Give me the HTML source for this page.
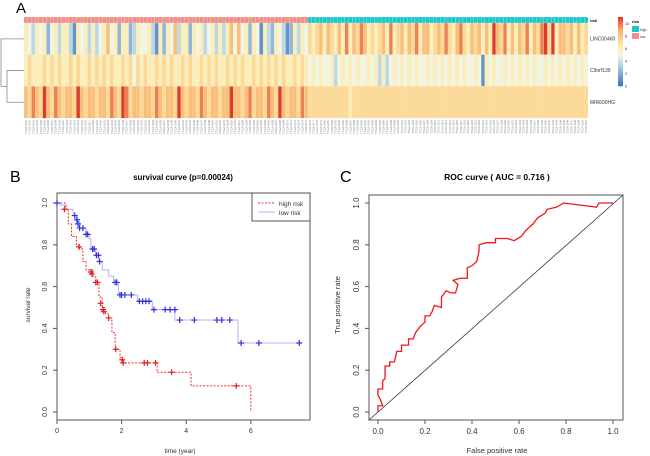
<!DOCTYPE html>
<html><head><meta charset="utf-8"><style>
html,body{margin:0;padding:0;background:#fff}
svg{display:block;font-family:"Liberation Sans",Arial,sans-serif}
</style></head><body>
<svg id="fig" width="650" height="456" viewBox="0 0 650 456">
<text x="16" y="13" font-size="15">A</text>
<text x="10" y="182" font-size="16">B</text>
<text x="340" y="182" font-size="16">C</text>
<g id="heat"></g>
<g id="surv"></g>
<g id="roc"></g>
</svg>
<script>
// ---------- Heatmap data ----------
const geneNames = ["LINC00460","C9orf139","MIR600HG"];
const lowGroup = [
"5435452453553154535345745255235445315254735525453453535747452541532543125354",
"5655565656556565565656565565646565565656556565565656556565655656565656556565",
"7687697687677697677677687698677677687677697677687677677977678677687697677687"];
const highGroup = [
"6567576575857687565675856757685775676865786576757597685757685768969577675756",
"4545445345454544545353454545454454545454545445415454454545454544545454545454",
"6666666666656666666666666666666666666666666666666666666666666666666666666666"];
const colorTicks = [0,2,4,6,8,10];

// ---------- Survival data ----------
const highT = [0,0.25,0.35,0.45,0.6,0.7,0.8,0.9,1.1,1.2,1.3,1.4,1.5,1.6,1.7,1.8,1.95,2.0,3.1,4.15,6.0];
const highS = [1,0.97,0.9,0.84,0.8,0.78,0.72,0.68,0.65,0.62,0.55,0.5,0.47,0.45,0.38,0.3,0.26,0.235,0.19,0.125,0];
const highCensT = [0.23,0.68,1.05,1.08,1.2,1.25,1.35,1.42,1.45,1.6,1.82,2.02,2.05,2.7,2.8,3.05,3.55,5.55];
const highCensS = [0.97,0.79,0.67,0.66,0.62,0.62,0.52,0.49,0.48,0.45,0.30,0.25,0.235,0.235,0.235,0.235,0.19,0.125];
const lowT = [0,0.1,0.3,0.5,0.6,0.7,0.9,1.0,1.05,1.2,1.3,1.4,1.6,1.75,1.9,2.5,2.95,3.65,5.6,7.5];
const lowS = [1,0.99,0.97,0.94,0.91,0.88,0.85,0.83,0.78,0.75,0.72,0.68,0.65,0.62,0.56,0.53,0.49,0.44,0.33,0.33];
const lowCensT = [0,0.55,0.62,0.65,0.7,0.8,0.9,0.95,1.1,1.15,1.22,1.28,1.32,1.8,1.85,1.95,2.0,2.1,2.3,2.55,2.65,2.75,2.85,3.0,3.35,3.5,3.65,3.8,4.25,4.95,5.1,5.35,5.7,6.25,7.5];
const lowCensS = [1,0.94,0.92,0.9,0.88,0.88,0.85,0.85,0.78,0.78,0.75,0.75,0.72,0.62,0.62,0.56,0.56,0.56,0.56,0.53,0.53,0.53,0.53,0.49,0.49,0.49,0.49,0.44,0.44,0.44,0.44,0.44,0.33,0.33,0.33];
const survXTicks = [0,2,4,6];
const survYTicks = [0,0.2,0.4,0.6,0.8,1.0];

// ---------- ROC data ----------
const rocFPR = [0,0,0.02,0.01,0,0,0.02,0.02,0.03,0.03,0.05,0.05,0.07,0.08,0.1,0.1,0.13,0.13,0.15,0.16,0.18,0.2,0.2,0.22,0.23,0.24,0.27,0.27,0.29,0.31,0.33,0.34,0.32,0.35,0.38,0.38,0.4,0.42,0.43,0.43,0.46,0.5,0.5,0.55,0.58,0.61,0.63,0.66,0.68,0.71,0.72,0.76,0.79,0.93,0.94,1];
const rocTPR = [0,0.03,0.03,0.06,0.08,0.11,0.11,0.15,0.16,0.22,0.22,0.24,0.24,0.29,0.29,0.32,0.32,0.35,0.35,0.38,0.41,0.43,0.46,0.46,0.48,0.51,0.5,0.55,0.58,0.57,0.57,0.61,0.63,0.64,0.64,0.69,0.70,0.72,0.77,0.8,0.81,0.81,0.83,0.83,0.82,0.84,0.87,0.9,0.93,0.95,0.97,0.98,1.0,0.98,1.0,1];
const rocTicks = [0,0.2,0.4,0.6,0.8,1.0];

const NS="http://www.w3.org/2000/svg";
function mk(parent,tag,attrs,text){const e=document.createElementNS(NS,tag);for(const k in attrs)e.setAttribute(k,attrs[k]);if(text!==undefined)e.textContent=text;parent.appendChild(e);return e;}

const stops=[[0,[58,111,181]],[3,[171,208,230]],[4.5,[246,246,226]],[6,[254,234,165]],[8,[250,184,112]],[10,[222,60,40]]];
function col(v){if(v<=0)v=0;if(v>=10)v=10;for(let i=0;i<stops.length-1;i++){const a=stops[i],b=stops[i+1];if(v<=b[0]){const t=(v-a[0])/(b[0]-a[0]);const c=a[1].map((x,j)=>Math.round(x+(b[1][j]-x)*t));return `rgb(${c})`;}}}

// ---------- Heatmap ----------
(function(){
const g=document.getElementById('heat');
const x0=24,xMid=308,x1=588,rowTop=23,rowH=31.7;
const groups=[[lowGroup,x0,xMid,'#f28e86'],[highGroup,xMid,x1,'#19c8cf']];
let colIdx=0;
groups.forEach(([rows,a,b,rc])=>{
  const n=rows[0].length,w=(b-a)/n;
  for(let c=0;c<n;c++){
    const x=a+c*w;
    const rb=mk(g,'rect',{x:x,y:17,width:w,height:6,fill:rc,stroke:'#fff','stroke-width':0.15});
    
    
    rows.forEach((s,r)=>{
      const v=parseInt(s[c])*10/9;
      const cell=mk(g,'rect',{x:x,y:rowTop+r*rowH,width:w,height:rowH,fill:col(v),stroke:'#e8e8e8','stroke-width':0.2});
      
      
    });
    const lab=mk(g,'text',{x:0,y:0,'font-size':2.6,fill:'#777',transform:`translate(${x+w*0.75},120) rotate(-90)`,'text-anchor':'end'},'TCGA-'+(1000+colIdx));
    
    
    colIdx++;
  }
});
const rl=mk(g,'text',{x:590,y:22,'font-size':4,'font-weight':'bold'},'risk');

geneNames.forEach((nm,r)=>{
  const t=mk(g,'text',{x:590,y:rowTop+r*rowH+rowH/2+1.5,'font-size':5,fill:'#333'},nm);
  
});
const dg=mk(g,'g',{stroke:'#888','stroke-width':0.8,fill:'none'});

const y1=rowTop+rowH/2,y2=rowTop+1.5*rowH,y3=rowTop+2.5*rowH;
mk(dg,'path',{d:`M24 ${y2}H7V${y3}H24M7 ${(y2+y3)/2}H1V${y1}H24`});
const cbTop=17,cbBot=86;
for(let i=0;i<50;i++){
  const v=10-i*10/50;
  mk(g,'rect',{x:618,y:cbTop+i*(cbBot-cbTop)/50,width:5,height:(cbBot-cbTop)/50+0.3,fill:col(v)});
}
colorTicks.forEach(v=>{
  const y=cbBot-(v/11)*(cbBot-cbTop);
  const t=mk(g,'text',{x:625,y:y+1.5,'font-size':4,fill:'#333'},String(v));
  
});
const lt=mk(g,'text',{x:632,y:23,'font-size':4,'font-weight':'bold'},'risk');

mk(g,'rect',{x:632,y:26,width:7,height:6,fill:'#19c8cf'});
mk(g,'rect',{x:632,y:33,width:7,height:6,fill:'#f28e86'});
const h1=mk(g,'text',{x:640,y:31,'font-size':3.5,fill:'#333'},'high');

const h2=mk(g,'text',{x:640,y:38,'font-size':3.5,fill:'#333'},'low');

})();

// ---------- Survival ----------
(function(){
const g=document.getElementById('surv');
const X=t=>57+t*32.3, Y=s=>412-s*209;
mk(g,'rect',{x:57,y:193,width:253,height:227,fill:'none',stroke:'#555','stroke-width':1});
const tt=mk(g,'text',{x:183,y:180,'font-size':8,'font-weight':'bold','text-anchor':'middle'},'survival curve (p=0.00024)');

survXTicks.forEach(v=>{
  mk(g,'line',{x1:X(v),x2:X(v),y1:420,y2:424,stroke:'#555'});
  const t=mk(g,'text',{x:X(v),y:433,'font-size':7,'text-anchor':'middle',fill:'#333'},String(v));
  
});
survYTicks.forEach(v=>{
  mk(g,'line',{x1:53,x2:57,y1:Y(v),y2:Y(v),stroke:'#555'});
  const t=mk(g,'text',{x:0,y:0,'font-size':7,'text-anchor':'middle',fill:'#333',transform:`translate(47,${Y(v)}) rotate(-90)`},v.toFixed(1));
  
});
const xl=mk(g,'text',{x:180,y:453,'font-size':6.5,'text-anchor':'middle',fill:'#333'},'time (year)');

const yl=mk(g,'text',{x:0,y:0,'font-size':6.5,'text-anchor':'middle',fill:'#333',transform:'translate(30,305) rotate(-90)'},'survival rate');

function step(T,S){let d=`M${X(T[0])} ${Y(S[0])}`;for(let i=1;i<T.length;i++){d+=`H${X(T[i])}V${Y(S[i])}`;}return d;}
const lo=mk(g,'path',{d:step(lowT,lowS),fill:'none',stroke:'#b4b4f0','stroke-width':1});

const hi=mk(g,'path',{d:step(highT,highS),fill:'none',stroke:'#f03030','stroke-width':1,'stroke-dasharray':'2,1.5'});

function cens(T,S,c,name){T.forEach((t,i)=>{const p=mk(g,'path',{d:`M${X(t)-3} ${Y(S[i])}h6M${X(t)} ${Y(S[i])-3}v6`,stroke:c,'stroke-width':1.2});});}
cens(lowCensT,lowCensS,'#3030e0','low-risk-censor');
cens(highCensT,highCensS,'#e02020','high-risk-censor');
const lg=mk(g,'g',{});

mk(lg,'rect',{x:252,y:193,width:58,height:28,fill:'#fff',stroke:'#555'});
mk(lg,'line',{x1:258,x2:275,y1:203,y2:203,stroke:'#f03030','stroke-dasharray':'2,1.5'});
mk(lg,'line',{x1:258,x2:275,y1:212,y2:212,stroke:'#b4b4f0'});
const e1=mk(lg,'text',{x:279,y:206,'font-size':6.5,fill:'#333'},'high risk');

const e2=mk(lg,'text',{x:279,y:215,'font-size':6.5,fill:'#333'},'low risk');

})();

// ---------- ROC ----------
(function(){
const g=document.getElementById('roc');
const X=v=>378+v*235, Y=v=>412-v*209;
mk(g,'rect',{x:369,y:195,width:254,height:225,fill:'none',stroke:'#555'});
const tt=mk(g,'text',{x:497,y:180,'font-size':8.5,'font-weight':'bold','text-anchor':'middle'},'ROC curve ( AUC =  0.716 )');

rocTicks.forEach(v=>{
  mk(g,'line',{x1:X(v),x2:X(v),y1:420,y2:424,stroke:'#555'});
  const t=mk(g,'text',{x:X(v),y:434,'font-size':8,'text-anchor':'middle',fill:'#333'},v.toFixed(1));
  
  mk(g,'line',{x1:365,x2:369,y1:Y(v),y2:Y(v),stroke:'#555'});
  const t2=mk(g,'text',{x:0,y:0,'font-size':8,'text-anchor':'middle',fill:'#333',transform:`translate(359,${Y(v)}) rotate(-90)`},v.toFixed(1));
  
});
const xl=mk(g,'text',{x:497,y:453,'font-size':7.5,'text-anchor':'middle',fill:'#333'},'False positive rate');

const yl=mk(g,'text',{x:0,y:0,'font-size':7.5,'text-anchor':'middle',fill:'#333',transform:'translate(340,305) rotate(-90)'},'True positive rate');

const dl=mk(g,'line',{x1:369,y1:420,x2:623,y2:195,stroke:'#333','stroke-width':0.8});

let d='';rocFPR.forEach((f,i)=>{d+=(i?'L':'M')+X(f)+' '+Y(rocTPR[i]);});
const rc=mk(g,'path',{d:d,fill:'none',stroke:'#f01818','stroke-width':1.3});

})();
</script>
</body></html>
